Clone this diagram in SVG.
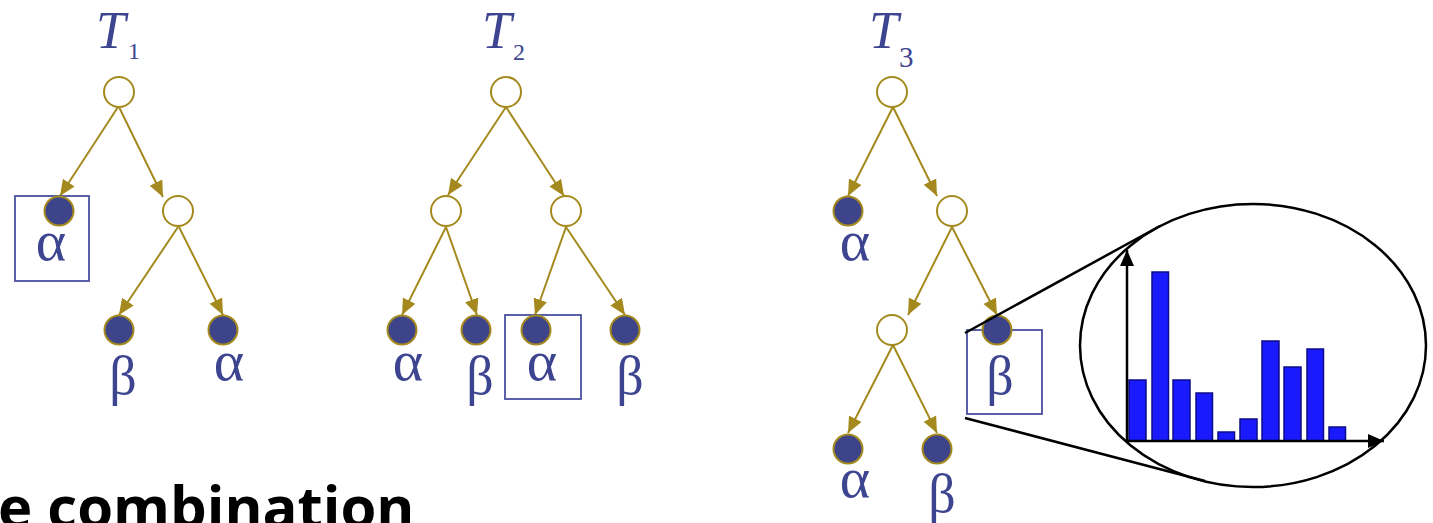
<svg xmlns="http://www.w3.org/2000/svg" width="1433" height="523" viewBox="0 0 1433 523">
<defs>
<marker id="ah" markerUnits="userSpaceOnUse" markerWidth="16" markerHeight="16" viewBox="0 0 16 14" refX="16" refY="7" orient="auto">
<path d="M0,0 L16,7 L0,14 Z" fill="#a48a1e"/>
</marker>
<marker id="bk" markerUnits="userSpaceOnUse" markerWidth="16" markerHeight="16" viewBox="0 0 16 14" refX="16" refY="7" orient="auto">
<path d="M0,0 L16,7 L0,14 Z" fill="#000"/>
</marker>
</defs>
<style>
.e{stroke:#a48a1e;stroke-width:2;fill:none;marker-end:url(#ah)}
.in{fill:#fff;stroke:#a48a1e;stroke-width:2}
.lf{fill:#3e4489;stroke:#a48a1e;stroke-width:2}
.lb{font-family:"Liberation Serif",serif;font-size:54px;fill:#3e4590;text-anchor:middle}
.la{font-size:58px}
.t{font-family:"Liberation Serif",serif;font-style:italic;font-size:53px;fill:#3e4590}
.s{font-family:"Liberation Serif",serif;font-size:24px;fill:#3e4590}
.bx{fill:none;stroke:#4a509e;stroke-width:1.8}
.bar{fill:#1a1aff;stroke:#0c0c88;stroke-width:1.5}
.k{stroke:#000;stroke-width:2.5;fill:none}
</style>
<g id="connectors">
<line class="e" x1="118" y1="107" x2="60" y2="196"/>
<line class="e" x1="119" y1="107" x2="163" y2="197"/>
<line class="e" x1="178" y1="227" x2="119" y2="315"/>
<line class="e" x1="179" y1="227" x2="223" y2="315"/>
<line class="e" x1="506" y1="107" x2="448" y2="195"/>
<line class="e" x1="506" y1="107" x2="564" y2="196"/>
<line class="e" x1="446" y1="227" x2="402" y2="315"/>
<line class="e" x1="446" y1="227" x2="477" y2="315"/>
<line class="e" x1="566" y1="227" x2="535" y2="315"/>
<line class="e" x1="566" y1="227" x2="625" y2="315"/>
<line class="e" x1="893" y1="107" x2="848" y2="196"/>
<line class="e" x1="893" y1="107" x2="937" y2="196"/>
<line class="e" x1="952" y1="227" x2="908" y2="315"/>
<line class="e" x1="952" y1="227" x2="997" y2="315"/>
<line class="e" x1="893" y1="345" x2="848" y2="433"/>
<line class="e" x1="893" y1="345" x2="937" y2="433"/>
</g>
<g id="tree1">
<text class="t" x="96" y="48">T</text><text class="s" x="128" y="59">1</text>
<g id="t1n0"><circle class="in" cx="119" cy="92" r="15"/></g>
<g id="t1n1"><rect class="bx" x="15" y="196" width="74" height="85"/><circle class="lf" cx="59" cy="211" r="14.5"/><text class="lb la" x="51" y="260">α</text></g>
<g id="t1n2"><circle class="in" cx="178" cy="211" r="15"/></g>
<g id="t1n3"><circle class="lf" cx="119" cy="330" r="14.5"/><text class="lb" x="123" y="394">β</text></g>
<g id="t1n4"><circle class="lf" cx="223" cy="330" r="14.5"/><text class="lb la" x="229" y="380">α</text></g>
</g>
<g id="tree2">
<text class="t" x="482" y="48">T</text><text class="s" x="513" y="60">2</text>
<g id="t2n0"><circle class="in" cx="506" cy="92" r="15"/></g>
<g id="t2n1"><circle class="in" cx="446" cy="211" r="15"/></g>
<g id="t2n2"><circle class="in" cx="566" cy="211" r="15"/></g>
<g id="t2n3"><circle class="lf" cx="402" cy="330" r="14.5"/><text class="lb la" x="408" y="380">α</text></g>
<g id="t2n4"><circle class="lf" cx="476" cy="330" r="14.5"/><text class="lb" x="480" y="394">β</text></g>
<g id="t2n5"><rect class="bx" x="505" y="315" width="76" height="84"/><circle class="lf" cx="536" cy="330" r="14.5"/><text class="lb la" x="542" y="380">α</text></g>
<g id="t2n6"><circle class="lf" cx="625" cy="330" r="14.5"/><text class="lb" x="630" y="394">β</text></g>
</g>
<g id="tree3">
<text class="t" x="869" y="48">T</text><text class="s" x="899" y="67" style="font-size:29px">3</text>
<g id="t3n0"><circle class="in" cx="892" cy="92" r="15"/></g>
<g id="t3n1"><circle class="lf" cx="848" cy="211" r="14.5"/><text class="lb la" x="855" y="260">α</text></g>
<g id="t3n2"><circle class="in" cx="952" cy="211" r="15"/></g>
<g id="t3n3"><circle class="in" cx="892" cy="330" r="15"/></g>
<g id="t3n4"><rect class="bx" x="967" y="330" width="75" height="84"/><circle class="lf" cx="997" cy="330" r="14.5"/><text class="lb" x="1000" y="394">β</text></g>
<g id="t3n5"><circle class="lf" cx="848" cy="449" r="14.5"/><text class="lb la" x="855" y="497">α</text></g>
<g id="t3n6"><circle class="lf" cx="937" cy="449" r="14.5"/><text class="lb" x="942" y="512">β</text></g>
</g>
<g id="zoom">
<line class="k" x1="965" y1="333" x2="1160" y2="226"/>
<line class="k" x1="965" y1="418" x2="1205" y2="481"/>
<ellipse class="k" cx="1253" cy="345.5" rx="173" ry="141.5"/>
<rect class="bar" x="1129" y="380" width="17" height="61"/>
<rect class="bar" x="1152" y="272" width="16.5" height="169"/>
<rect class="bar" x="1173" y="380" width="17" height="61"/>
<rect class="bar" x="1196" y="393" width="16.5" height="48"/>
<rect class="bar" x="1218" y="432" width="16.5" height="9"/>
<rect class="bar" x="1240" y="419" width="17" height="22"/>
<rect class="bar" x="1262" y="341" width="17" height="100"/>
<rect class="bar" x="1284" y="367" width="17" height="74"/>
<rect class="bar" x="1307" y="349" width="16.5" height="92"/>
<rect class="bar" x="1329" y="427" width="16.5" height="14"/>
<line x1="1127" y1="441" x2="1127" y2="250" stroke="#000" stroke-width="2.5" marker-end="url(#bk)"/>
<line x1="1127" y1="441" x2="1384" y2="441" stroke="#000" stroke-width="2.5" marker-end="url(#bk)"/>
</g>
<text x="-2" y="528" style="font-family:'Open Sans',sans-serif;font-weight:bold;font-size:58px;fill:#000">e combination</text>
</svg>
